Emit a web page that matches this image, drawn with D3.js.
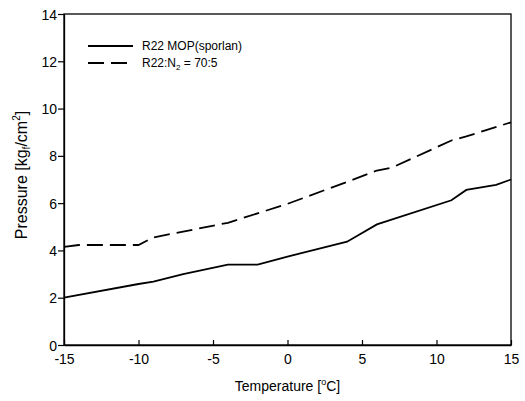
<!DOCTYPE html>
<html><head><meta charset="utf-8">
<script src="https://cdn.jsdelivr.net/npm/d3@7"></script>
<style>body{margin:0;background:#fff}svg{display:block}text{font-family:"Liberation Sans",Arial,sans-serif;fill:#000}</style>
</head><body><svg id="c" width="525" height="401"></svg>
<script>
const xTicks = [-15, -10, -5, 0, 5, 10, 15];
const yTicks = [0, 2, 4, 6, 8, 10, 12, 14];
const mopTemp = [-15, -10, -9, -7, -4, -2, 0, 4, 6, 11, 12, 14, 15];
const mopPressure = [2.0, 2.58, 2.68, 3.0, 3.4, 3.4, 3.74, 4.37, 5.1, 6.12, 6.56, 6.77, 7.0];
const mixTemp = [-15, -14, -10, -9, -4, 0, 4, 6, 7, 11, 12, 15];
const mixPressure = [4.15, 4.23, 4.23, 4.55, 5.17, 5.97, 6.9, 7.38, 7.5, 8.65, 8.82, 9.42];

const svg = d3.select("#c");
const L = 64, R = 511, T = 14, B = 345;
const x = d3.scaleLinear().domain([-15, 15]).range([L, R]);
const y = d3.scaleLinear().domain([0, 14]).range([B, T]);

svg.append("rect").attr("x", L).attr("y", T).attr("width", R - L).attr("height", B - T)
  .attr("fill", "none").attr("stroke", "#000").attr("stroke-width", 1.3);

const fmt = d => String(d);
const xa = svg.append("g").attr("transform", `translate(0,${B})`)
  .call(d3.axisBottom(x).tickValues(xTicks).tickSizeInner(-5).tickSizeOuter(0).tickPadding(9).tickFormat(fmt));
const ya = svg.append("g").attr("transform", `translate(${L},0)`)
  .call(d3.axisLeft(y).tickValues(yTicks).tickSizeInner(6).tickSizeOuter(0).tickPadding(1).tickFormat(fmt));
[xa, ya].forEach(a => {
  a.attr("font-size", 14).attr("font-family", "Liberation Sans, Arial, sans-serif");
  a.select(".domain").attr("stroke", "#000").attr("stroke-width", 1.3);
  a.selectAll(".tick line").attr("stroke", "#000").attr("stroke-width", 1.2);
  a.selectAll(".tick text").attr("font-size", 14);
});
ya.selectAll(".tick text").attr("dy", "0.36em");

const line = d3.line().x(d => x(d[0])).y(d => y(d[1]));
const mop = mopTemp.map((t, i) => [t, mopPressure[i]]);
const mix = mixTemp.map((t, i) => [t, mixPressure[i]]);
svg.append("path").datum(mop).attr("d", line).attr("fill", "none").attr("stroke", "#000").attr("stroke-width", 1.8);
svg.append("path").datum(mix).attr("d", line).attr("fill", "none").attr("stroke", "#000").attr("stroke-width", 1.8).attr("stroke-dasharray", "16,7");

const lg = svg.append("g");
lg.append("line").attr("x1", 88).attr("x2", 133).attr("y1", 46).attr("y2", 46).attr("stroke", "#000").attr("stroke-width", 1.8);
lg.append("line").attr("x1", 88).attr("x2", 133).attr("y1", 63).attr("y2", 63).attr("stroke", "#000").attr("stroke-width", 1.8).attr("stroke-dasharray", "16,7");
lg.append("text").attr("x", 142).attr("y", 50).attr("font-size", 12).text("R22 MOP(sporlan)");
const t2 = lg.append("text").attr("x", 142).attr("y", 67).attr("font-size", 12);
t2.append("tspan").text("R22:N");
t2.append("tspan").attr("font-size", 8).attr("dy", 3).text("2");
t2.append("tspan").attr("dy", -3).text(" = 70:5");

const xt = svg.append("text").attr("x", (L + R) / 2).attr("y", 391).attr("text-anchor", "middle").attr("font-size", 14);
xt.append("tspan").text("Temperature [");
xt.append("tspan").attr("font-size", 9).attr("dy", -6).text("o");
xt.append("tspan").attr("dy", 6).text("C]");

const yt = svg.append("text").attr("transform", `translate(27,175) rotate(-90)`).attr("text-anchor", "middle").attr("font-size", 16);
yt.append("tspan").text("Pressure [kg");
yt.append("tspan").attr("font-size", 10).attr("dy", 3).text("f");
yt.append("tspan").attr("dy", -3).text("/cm");
yt.append("tspan").attr("font-size", 10).attr("dy", -7).text("2");
yt.append("tspan").attr("dy", 7).text("]");
</script></body></html>
